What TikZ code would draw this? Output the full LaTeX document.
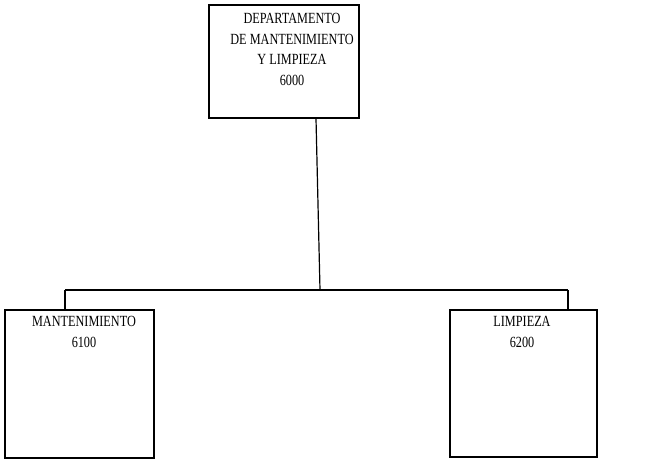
\documentclass[tikz,border=0pt]{standalone}
\usepackage{fontspec}
\setmainfont[FakeStretch=0.79]{Liberation Serif}
\begin{document}
\begin{tikzpicture}[x=1pt,y=-1pt,
  box/.style={draw,line width=1.2pt,inner sep=0pt},
  lbl/.style={align=center,font=\fontsize{15.5}{20.7}\selectfont,inner sep=0pt,anchor=north},
  conn/.style={line width=1.2pt}]
\useasboundingbox (0,0) rectangle (645,464);
\node[box,minimum width=150pt,minimum height=113pt] (top) at (284,61.5) {};
\node[lbl] (toptxt) at (292,13) {DEPARTAMENTO\\DE MANTENIMIENTO\\Y LIMPIEZA\\6000};
\node[box,minimum width=149pt,minimum height=148pt] (left) at (79.5,384) {};
\node[lbl] (lefttxt) at (84,316) {MANTENIMIENTO\\6100};
\node[box,minimum width=147pt,minimum height=147pt] (right) at (523.5,383.5) {};
\node[lbl] (righttxt) at (522,316) {LIMPIEZA\\6200};
\coordinate (j) at (320,290);
\coordinate (jl) at (65,290);
\coordinate (jr) at (568,290);
\draw[conn] (top.south -| 316,0) -- (j);
\draw[conn] (jl) -- (jr);
\draw[conn] (jl) -- (jl |- left.north);
\draw[conn] (jr) -- (jr |- right.north);
\end{tikzpicture}
\end{document}
